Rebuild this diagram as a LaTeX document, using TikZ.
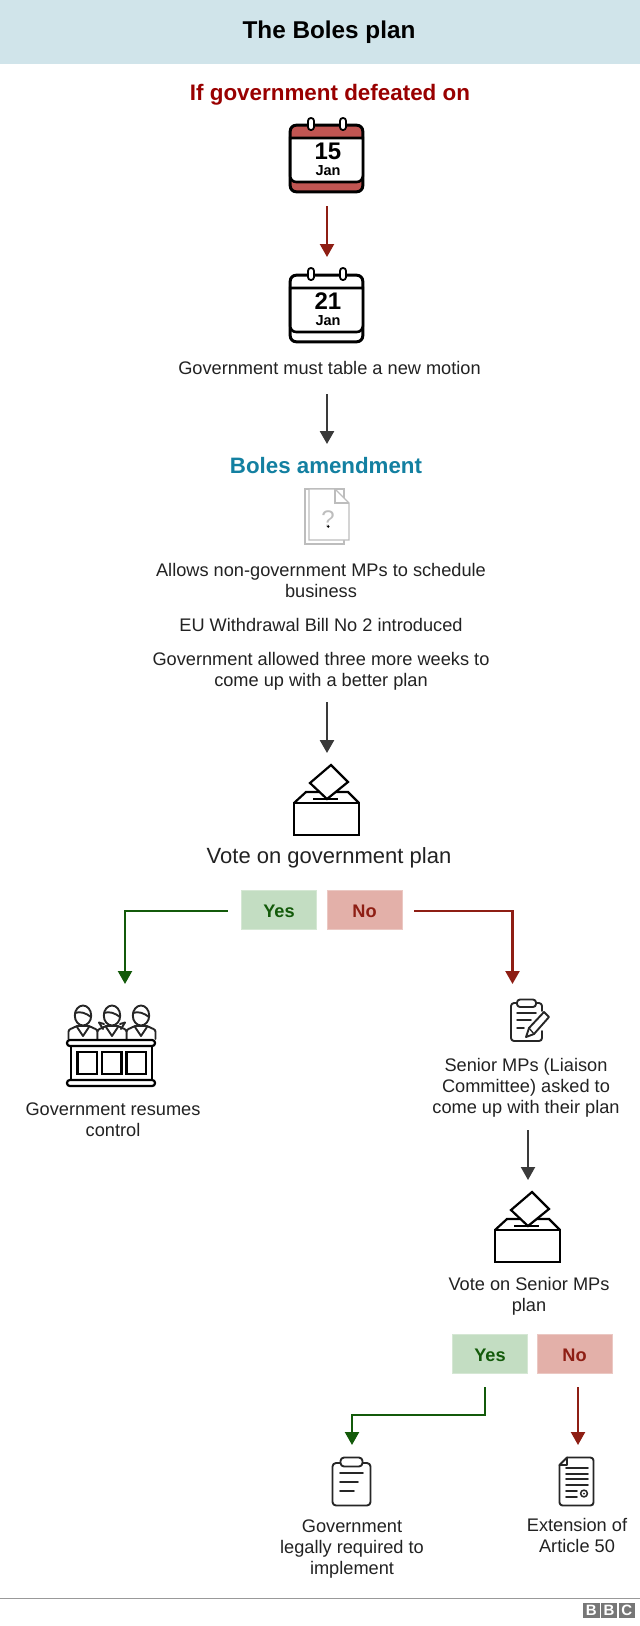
\documentclass[tikz,border=0pt]{standalone}
\usepackage{fontspec}
\setmainfont{Liberation Sans}
\usetikzlibrary{arrows.meta,calc}
\definecolor{hdr}{HTML}{D0E4EA}
\definecolor{txt}{HTML}{222222}
\definecolor{dred}{HTML}{8E1E14}
\definecolor{hred}{HTML}{990000}
\definecolor{dgreen}{HTML}{135A0A}
\definecolor{teal}{HTML}{1380A1}
\definecolor{dgrey}{HTML}{3A3A3A}
\definecolor{yesfill}{HTML}{C3DDC2}
\definecolor{nofill}{HTML}{E3B0A9}
\definecolor{calred}{HTML}{C05552}
\definecolor{pale}{HTML}{BDBDBD}
\definecolor{logo}{HTML}{777777}
\tikzset{
  x=1pt,y=-1pt,
  every node/.style={inner sep=0pt,outer sep=0pt},
  body/.style={font=\fontsize{18.2}{21}\selectfont,text=txt,align=center,anchor=base},
  bigbody/.style={font=\fontsize{22}{26}\selectfont,text=txt,align=center,anchor=base},
  headred/.style={font=\fontsize{22.4}{26}\bfseries\selectfont,text=hred,anchor=base},
  headteal/.style={font=\fontsize{22.3}{26}\bfseries\selectfont,text=teal,anchor=base},
  yesbox/.style={fill=yesfill,draw=yesfill!70!white,line width=.8pt,text=dgreen,font=\fontsize{18.2}{21}\bfseries\selectfont,minimum width=75pt,minimum height=39pt,text height=16pt,text depth=0pt},
  nobox/.style={fill=nofill,draw=nofill!70!white,line width=.8pt,text=dred,font=\fontsize{18.2}{21}\bfseries\selectfont,minimum width=75pt,minimum height=39pt,text height=16pt,text depth=0pt},
  tip/.style={-{Triangle[width=14pt,length=13pt]}},
  arrowgrey/.style={tip,draw=dgrey,line width=2.6pt},
  arrowred/.style={tip,draw=dred,line width=2.2pt},
  arrowgreen/.style={tip,draw=dgreen,line width=2.2pt},
  iconline/.style={line width=2.2pt,draw=black,line join=miter},
  iconthin/.style={line width=1.9pt,draw=black!85,line join=round,line cap=round},
  logobox/.style={fill=logo,text=white,font=\fontsize{15}{15}\bfseries\selectfont,minimum width=16.5pt,minimum height=15pt},
}
\newcommand{\mycal}[5]{% name, left, top, band colour, day
  \node[minimum width=75pt,minimum height=69pt] (#1) at (#2+37.5,#3+34.5) {};
  \begin{scope}[shift={(#2,#3)}]
    \draw[line width=3pt,fill=#4,rounded corners=6pt] (1.2,1.2) rectangle (73.8,67.8);
    \draw[line width=2.6pt,fill=white] (1.2,14) -- (73.8,14) -- (73.8,52) arc[start angle=0,end angle=90,radius=6] -- (7.2,58) arc[start angle=90,end angle=180,radius=6] -- cycle;
    \draw[line width=1.8pt,fill=white,rounded corners=2.8pt] (19,-6) rectangle (25,6);
    \draw[line width=1.8pt,fill=white,rounded corners=2.8pt] (51,-6) rectangle (57,6);
    \node[font=\fontsize{24}{24}\bfseries\selectfont] at (39,27) {#5};
    \node[font=\fontsize{14.5}{15}\bfseries\selectfont] at (39,47) {Jan};
  \end{scope}}
\newcommand{\myballot}[3]{% name, left, top of box
  \node[minimum width=65pt,minimum height=70pt] (#1) at (#2+32.5,#3-3) {};
  \begin{scope}[shift={(#2,#3)}]
    \draw[iconline] (0,0) -- (12,-11) -- (54,-11) -- (65,0);
    \draw[iconline,fill=white] (0,0) rectangle (65,32);
    \draw[iconline,fill=white] (37,-38) -- (54,-21) -- (33,-4) -- (16,-20) -- cycle;
    \draw[iconline,line width=2.2pt] (19,-4) -- (44,-4);
  \end{scope}}
\newcommand{\myperson}[1]{% centre x
  \begin{scope}[shift={(#1,0)}]
    \draw[iconthin,fill=white] (-14.5,1039) -- (-14.5,1032) .. controls (-14.5,1029) and (-12,1029) .. (-6,1026) -- (6,1026) .. controls (12,1029) and (14.5,1029) .. (14.5,1032) -- (14.5,1039);
    \draw[iconthin] (-6,1027) -- (0,1036) -- (6,1027);
    \draw[iconthin,fill=white] (0,1015.5) ellipse[x radius=8.2,y radius=10];
    \draw[iconthin] (-8,1013) .. controls (-3,1011) and (3,1013) .. (8,1017);
  \end{scope}}
\begin{document}
\begin{tikzpicture}
\useasboundingbox (0,0) rectangle (640,1626);
\fill[white] (0,0) rectangle (640,1626);
\fill[hdr] (0,0) rectangle (640,64);
\node[font=\fontsize{24.3}{28}\bfseries\selectfont,text=black,anchor=base] (title) at (329,38.5) {The Boles plan};

\node[headred] (defeat) at (330,100) {If government defeated on};
\mycal{calone}{289}{124}{calred}{15}
\mycal{caltwo}{289}{274}{white}{21}
\node[body] (motion) at (329.5,374) {Government must table a new motion};
\node[headteal] (boles) at (326,473.5) {Boles amendment};

% document icon
\node[minimum width=44pt,minimum height=55pt] (docq) at (327,516.5) {};
\draw[draw=pale,line width=1.1pt,fill=white] (305,489) rectangle (344,544);
\draw[draw=pale,line width=1.1pt,fill=white] (309,489) -- (335,489) -- (349,503) -- (349,540) -- (309,540) -- cycle;
\draw[draw=pale,line width=1.1pt] (335,489) -- (335,503) -- (349,503);
\node[font=\fontsize{24}{24}\selectfont,text=pale,anchor=base] (qm) at (328,527.5) {?};
\fill[black] (328.3,526.5) circle[radius=1.3];

\node[body] (allows) at (321,597) {Allows non-government MPs to schedule\\business};
\node[body] (bill) at (321,631) {EU Withdrawal Bill No 2 introduced};
\node[body] (weeks) at (321,686) {Government allowed three more weeks to\\come up with a better plan};

\myballot{ballotone}{294}{803}
\node[bigbody] (votegov) at (329,863.5) {Vote on government plan};

\node[yesbox] (yesone) at (279,909.5) {Yes};
\node[nobox] (noone) at (364.5,909.5) {No};

% jury icon
\node[minimum width=90pt,minimum height=81pt] (jury) at (111,1045.5) {};
\myperson{83}
\myperson{141}
\myperson{112}
\draw[iconthin] (104,1024) -- (99,1022.5) -- (103,1029);
\draw[iconthin] (120,1024) -- (125,1022.5) -- (121,1029);
\draw[iconline,rounded corners=2.8pt,fill=white] (67,1040) rectangle (155,1046);
\draw[iconline] (71,1046) rectangle (152,1080);
\draw[iconline] (77.5,1052) rectangle (97,1074);
\draw[iconline] (102,1052) rectangle (121.5,1074);
\draw[iconline] (126.5,1052) rectangle (146,1074);
\draw[iconline,rounded corners=2.8pt,fill=white] (67,1080) rectangle (155,1086);
\node[body] (resumes) at (113,1136) {Government resumes\\control};

% clipboard with pencil
\node[minimum width=38pt,minimum height=42pt] (clippen) at (529,1020) {};
\draw[iconthin,rounded corners=3pt] (517,1003) -- (511,1003) -- (511,1041) -- (542,1041) -- (542,1031);
\draw[iconthin,rounded corners=3pt] (536,1003) -- (542,1003) -- (542,1011);
\draw[iconthin,fill=white,rounded corners=3pt] (517,999.5) rectangle (536,1007);
\draw[iconthin,line width=1.5pt] (517,1013) -- (536,1013);
\draw[iconthin,line width=1.5pt] (517,1020) -- (531,1020);
\draw[iconthin,line width=1.5pt] (517,1028) -- (524,1028);
\draw[iconthin,fill=white] (526,1037) -- (529,1028) -- (544,1012) -- (549,1017) -- (534,1034) -- cycle;
\draw[iconthin,line width=1.3pt] (529,1028) -- (534,1034);
\node[body] (senior) at (526,1113.7) {Senior MPs (Liaison\\Committee) asked to\\come up with their plan};

\myballot{ballottwo}{495}{1230}
\node[body] (votesen) at (529,1311) {Vote on Senior MPs\\plan};

\node[yesbox] (yestwo) at (490,1353.5) {Yes};
\node[nobox] (notwo) at (574.5,1353.5) {No};

% clipboard
\node[minimum width=39pt,minimum height=49pt] (clip) at (351.5,1481.5) {};
\draw[iconthin,rounded corners=3.5pt,fill=white] (332.5,1463) rectangle (370.5,1505.5);
\draw[iconthin,fill=white,rounded corners=3.5pt] (340.5,1457.5) rectangle (362.5,1466.5);
\draw[iconthin,line width=1.6pt] (340,1473) -- (363,1473);
\draw[iconthin,line width=1.6pt] (340,1482) -- (358,1482);
\draw[iconthin,line width=1.6pt] (340,1491) -- (354,1491);

% certificate
\node[minimum width=35pt,minimum height=49pt] (cert) at (576.5,1481.5) {};
\draw[iconthin,rounded corners=3pt] (567,1457.5) -- (593.5,1457.5) -- (593.5,1505.5) -- (559.5,1505.5) -- (559.5,1465);
\draw[iconthin,line join=round] (559.5,1465) -- (567,1457.5) -- (567,1465) -- cycle;
\foreach \ly in {1468,1474,1479,1485}{\draw[iconthin,line width=1.6pt] (566,\ly) -- (588,\ly);}
\draw[iconthin,line width=1.6pt] (566,1491) -- (577,1491);
\draw[iconthin,line width=1.6pt] (566,1497) -- (577,1497);
\draw[iconthin,line width=1.5pt] (584,1493.5) circle[radius=3.4];
\fill[black!85] (584,1493.5) circle[radius=1];

\node[body] (legal) at (352,1574.5) {Government\\legally required to\\implement};
\node[body] (extend) at (577,1552) {Extension of\\Article 50};

% connectors
\draw[arrowred] ([xshift=.5pt,yshift=-13pt]calone.south) -- ([xshift=.5pt,yshift=17pt]caltwo.north);
\draw[arrowgrey] ([xshift=-2.5pt,yshift=-20pt]motion.base) -- ([xshift=1pt,yshift=29.5pt]boles.base);
\draw[arrowgrey] ([xshift=6pt,yshift=-16pt]weeks.base) -- ([xshift=.5pt,yshift=12pt]ballotone.north);
\draw[arrowgreen] ([xshift=-14pt,yshift=-1.5pt]yesone.west) -| ([xshift=14pt,yshift=21pt]jury.north);
\draw[arrowred] ([xshift=12pt,yshift=-1.5pt]noone.east) -| ([xshift=-16.5pt,yshift=15pt]clippen.north);
\draw[arrowgrey,line width=2pt] ([xshift=2pt,yshift=-16.3pt]senior.base) -- ([xshift=.5pt,yshift=12pt]ballottwo.north);
\draw[arrowgreen] ([xshift=-5pt,yshift=-14pt]yestwo.south) -- ++(0,28) -| ([xshift=.5pt,yshift=12pt]clip.north);
\draw[arrowred] ([xshift=3.5pt,yshift=-14pt]notwo.south) -- ([xshift=1.5pt,yshift=12pt]cert.north);

% footer
\draw[draw=black!40,line width=1pt] (0,1598) coordinate (footl) -- (640,1598) coordinate (footr);
\node[logobox] (bbcone) at (591.3,1610.8) {B};
\node[logobox] (bbctwo) at (609,1610.8) {B};
\node[logobox] (bbcthree) at (626.8,1610.8) {C};
\end{tikzpicture}
\end{document}
